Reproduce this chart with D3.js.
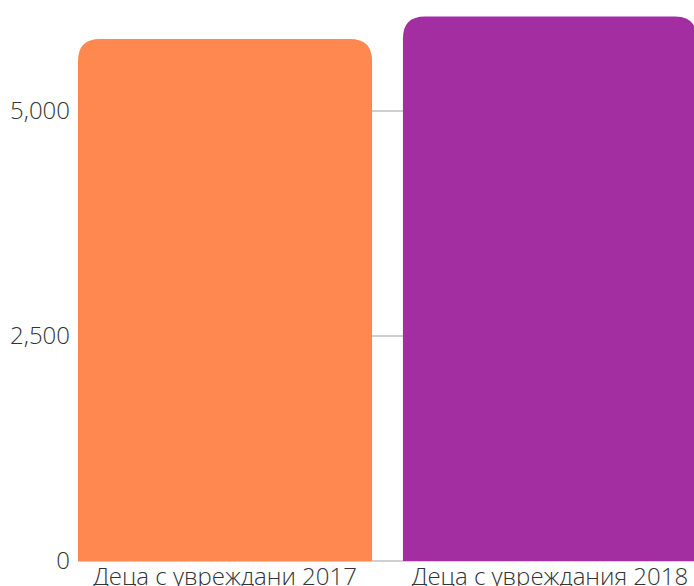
<!DOCTYPE html>
<html>
<head>
<meta charset="utf-8">
<script src="https://cdnjs.cloudflare.com/ajax/libs/d3/7.8.5/d3.min.js"></script>
<style>
  body { margin: 0; background: #fff; }
  svg text { font-family: "Open Sans", sans-serif; fill: #333; }
</style>
</head>
<body>
<div id="chart-area"></div>
<script>
// chart data
var categories = ["Деца с увреждани 2017", "Деца с увреждания 2018"];
var values = [5800, 6050];
var colors = ["#ff8851", "#a22ea2"];
var yTicks = [0, 2500, 5000];

var width = 694, height = 586;
var margin = {left: 78, right: -3, top: 111, bottom: 25};

var svg = d3.select("#chart-area")
    .append("svg")
    .attr("width", width)
    .attr("height", height);

var x = d3.scaleBand()
    .domain(categories)
    .range([margin.left, width - margin.right])
    .paddingInner(0.095)
    .paddingOuter(0);

var y = d3.scaleLinear()
    .domain([0, 5000])
    .range([height - margin.bottom, margin.top]);

// gridlines
svg.selectAll(".grid")
    .data(yTicks)
    .enter()
    .append("line")
    .attr("class", "grid")
    .attr("x1", margin.left)
    .attr("x2", width - margin.right)
    .attr("y1", function (d) { return y(d); })
    .attr("y2", function (d) { return y(d); })
    .attr("stroke", "#d0d0d0")
    .attr("stroke-width", 2);

// y tick labels
svg.selectAll(".ytick")
    .data(yTicks)
    .enter()
    .append("text")
    .attr("class", "ytick")
    .attr("x", margin.left - 8)
    .attr("y", function (d) { return y(d); })
    .attr("dy", "0.35em")
    .attr("text-anchor", "end")
    .attr("font-size", "24px")
    .attr("font-weight", 300)
    .text(function (d) { return d3.format(",")(d); });

// bars with rounded top corners
function topRounded(x0, y0, w, h, r) {
    r = Math.min(r, w / 2, h);
    return "M" + x0 + "," + (y0 + h) +
        "V" + (y0 + r) +
        "Q" + x0 + "," + y0 + " " + (x0 + r) + "," + y0 +
        "H" + (x0 + w - r) +
        "Q" + (x0 + w) + "," + y0 + " " + (x0 + w) + "," + (y0 + r) +
        "V" + (y0 + h) + "Z";
}

svg.selectAll(".bar")
    .data(values)
    .enter()
    .append("path")
    .attr("class", "bar")
    .attr("fill", function (d, i) { return colors[i]; })
    .attr("d", function (d, i) {
        var x0 = x(categories[i]);
        var y0 = y(d);
        return topRounded(x0, y0, x.bandwidth(), y(0) - y0, 22);
    });

// category labels
svg.selectAll(".xlabel")
    .data(categories)
    .enter()
    .append("text")
    .attr("class", "xlabel")
    .attr("x", function (d) { return x(d) + x.bandwidth() / 2; })
    .attr("y", height - 1)
    .attr("text-anchor", "middle")
    .attr("font-size", "24px")
    .attr("font-weight", 300)
    .text(function (d) { return d; });
</script>
</body>
</html>
